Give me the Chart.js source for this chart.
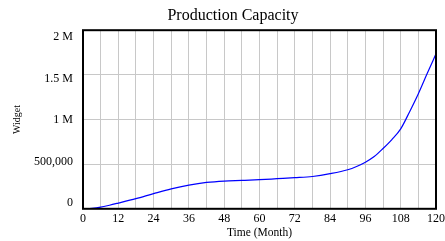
<!DOCTYPE html>
<html>
<head>
<meta charset="utf-8">
<script src="https://cdn.jsdelivr.net/npm/chart.js@4/dist/chart.umd.min.js"></script>
<style>
  html, body { margin: 0; padding: 0; background: #fff; }
  #wrap { width: 445px; height: 241px; }
</style>
</head>
<body>
<div id="wrap"><canvas id="capacityChart" width="445" height="241"></canvas></div>
<script>
// Data
const months = [0, 3, 6, 9, 12, 18, 24, 30, 36, 42, 48, 54, 60, 66, 72, 78, 84, 90, 93, 96, 99, 102, 105, 108, 111, 114, 117, 120];
const capacity = [0, 6000, 19000, 40000, 64000, 114000, 170000, 223000, 265000, 295000, 311000, 318000, 326000, 337000, 348000, 362000, 393000, 437000, 474000, 522000, 585000, 675000, 775000, 895000, 1085000, 1289000, 1515000, 1735000];
const yTickValues = [0, 500000, 1000000, 1500000, 2000000];
const yTickLabels = ["0", "500,000", "1 M", "1.5 M", "2 M"];

const serif = "'Liberation Serif', 'DejaVu Serif', serif";

// Black frame round the plot area
const frame = {
  id: "frame",
  afterDatasetsDraw(chart) {
    const a = chart.chartArea;
    const c = chart.ctx;
    c.save();
    c.strokeStyle = "#000";
    c.lineWidth = 2;
    c.strokeRect(a.left, a.top, a.right - a.left, a.bottom - a.top);
    c.restore();
  }
};

const ctx = document.getElementById("capacityChart").getContext("2d");
new Chart(ctx, {
  type: "line",
  data: {
    datasets: [{
      data: months.map((m, i) => ({ x: m, y: capacity[i] })),
      yAxisID: "y",
      borderColor: "#0000ff",
      borderWidth: 1.2,
      pointRadius: 0,
      cubicInterpolationMode: "monotone",
      fill: false
    }]
  },
  options: {
    responsive: false,
    animation: false,
    layout: { padding: { left: 21, right: 0, top: 0, bottom: 0 } },
    plugins: {
      legend: { display: false },
      tooltip: { enabled: false },
      title: {
        display: true,
        text: "Production Capacity",
        color: "#000",
        font: { family: serif, size: 16, weight: "normal" },
        padding: { top: 6, bottom: 5 }
      }
    },
    scales: {
      x: {
        type: "linear",
        min: 0,
        max: 120,
        grid: { color: "#c8c8c8", lineWidth: 1, drawTicks: false },
        border: { display: false },
        afterFit: scale => { scale.paddingRight = 9; },
        ticks: {
          stepSize: 6,
          color: "#000",
          padding: 3,
          maxRotation: 0,
          autoSkip: false,
          font: { family: serif, size: 12 },
          callback: v => (v % 12 === 0 ? String(v) : "")
        },
        title: {
          display: true,
          text: "Time (Month)",
          color: "#000",
          font: { family: serif, size: 11.5 },
          padding: { top: -3, bottom: 1 }
        }
      },
      // value axis: grid only
      y: {
        position: "left",
        min: 0,
        max: 2000000,
        grid: { color: "#c8c8c8", lineWidth: 1, drawTicks: false },
        border: { display: false },
        ticks: { stepSize: 500000, display: false }
      },
      // label axis: labels kept inside the plot height, like the original
      yLabels: {
        position: "left",
        min: -67500,
        max: 2081000,
        grid: { display: false, drawTicks: false },
        border: { display: false },
        afterBuildTicks: scale => { scale.ticks = yTickValues.map(v => ({ value: v })); },
        ticks: {
          color: "#000",
          padding: 10,
          font: { family: serif, size: 12 },
          callback: v => yTickLabels[yTickValues.indexOf(v)] ?? ""
        },
        title: {
          display: true,
          text: "Widget",
          color: "#000",
          font: { family: serif, size: 10 },
          padding: { top: -10, bottom: 1 }
        }
      }
    }
  },
  plugins: [frame]
});
</script>
</body>
</html>
